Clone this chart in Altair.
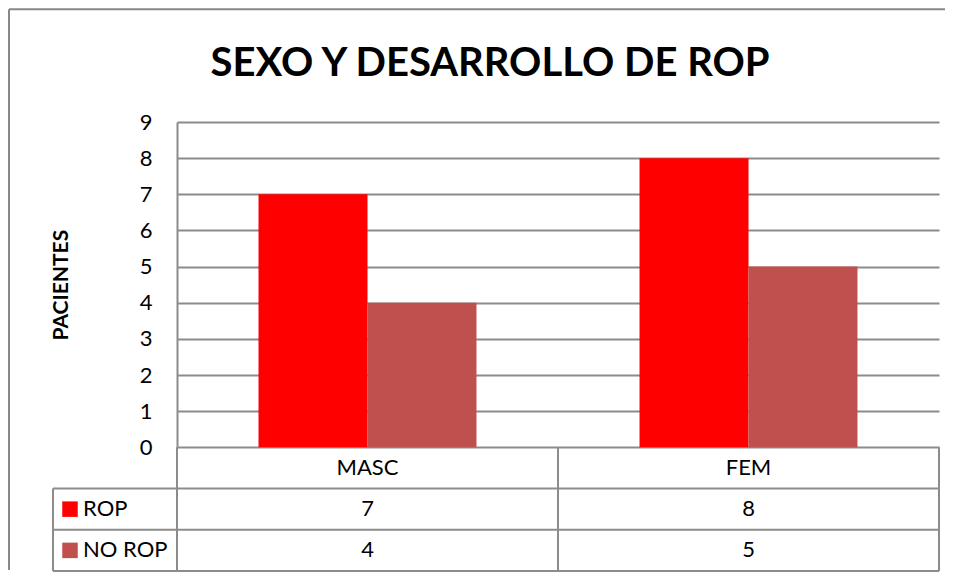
import altair as alt
import pandas as pd

# ---- data ----
categorias = ["MASC", "FEM"]
series = ["ROP", "NO ROP"]
rop = [7, 8]
no_rop = [4, 5]
colores = ["#FF0000", "#C0504D"]
y_ticks = [0, 1, 2, 3, 4, 5, 6, 7, 8, 9]
titulo = "SEXO Y DESARROLLO DE ROP"
titulo_y = "PACIENTES"
fila_cab = "cab"
filas = [fila_cab] + series

# ---- layout constants (pixels, relative to plot origin) ----
W = 762
YZ = 325.3     # y pixel of value 0 (top of table)
YB = 449       # bottom of table
LEFT_COL = -124
FONT = "Lato"
GRID = "#8c8c8c"
FS = 22

rows = []
for i, c in enumerate(categorias):
    rows.append({"sexo": c, "serie": series[0], "valor": rop[i], "fila": series[0]})
    rows.append({"sexo": c, "serie": series[1], "valor": no_rop[i], "fila": series[1]})
df = pd.DataFrame(rows)
df_cat = pd.DataFrame({"sexo": categorias, "fila": [fila_cab] * len(categorias)})
df_ser = pd.DataFrame({"serie": series, "fila": series})
df_last = pd.DataFrame({"fila": [series[-1]]})
df_catlast = pd.DataFrame({"sexo": [categorias[-1]]})

xscale = alt.Scale(domain=categorias, paddingInner=0, paddingOuter=0)
yrow = alt.Scale(domain=filas, range=[YZ, YB], paddingInner=0, paddingOuter=0)
cscale = alt.Scale(domain=series, range=colores)

bars = alt.Chart(df).mark_bar().encode(
    x=alt.X("sexo:N", sort=categorias, scale=xscale, axis=None),
    xOffset=alt.XOffset("serie:N", sort=series,
                        scale=alt.Scale(domain=series, paddingInner=0, paddingOuter=0.748)),
    y=alt.Y("valor:Q",
            scale=alt.Scale(domain=[0, 9], range=[YZ, 0], nice=False),
            axis=alt.Axis(values=y_ticks, grid=True, gridColor=GRID, gridWidth=2,
                          domain=True, domainColor=GRID, domainWidth=2, ticks=False,
                          labelFont=FONT, labelFontSize=FS, labelColor="black",
                          labelPadding=25, title=titulo_y, titleFont=FONT,
                          titleFontSize=21, titleFontWeight="bold", titleColor="black",
                          titlePadding=68)),
    color=alt.Color("serie:N", scale=cscale, legend=None),
)

# table horizontal lines (top of ROP / NO ROP rows, bottom of table)
hlines = alt.Chart(df_ser).mark_rule(color=GRID, strokeWidth=2).encode(
    y=alt.Y("fila:N", scale=yrow, axis=None, bandPosition=0),
    x=alt.value(LEFT_COL), x2=alt.value(W),
)
hbottom = alt.Chart(df_last).mark_rule(color=GRID, strokeWidth=2).encode(
    y=alt.Y("fila:N", scale=yrow, axis=None, bandPosition=1),
    x=alt.value(LEFT_COL), x2=alt.value(W),
)
# table vertical lines at category band edges
vlines = alt.Chart(df_cat).mark_rule(color=GRID, strokeWidth=2).encode(
    x=alt.X("sexo:N", scale=xscale, axis=None, bandPosition=0),
    y=alt.value(YZ), y2=alt.value(YB),
)
vright = alt.Chart(df_catlast).mark_rule(color=GRID, strokeWidth=2).encode(
    x=alt.X("sexo:N", scale=xscale, axis=None, bandPosition=1),
    y=alt.value(YZ), y2=alt.value(YB),
)
vleft = alt.Chart(df_last).mark_rule(color=GRID, strokeWidth=2).encode(
    x=alt.value(LEFT_COL), y=alt.value(YZ + (YB - YZ) / 3), y2=alt.value(YB),
)

header = alt.Chart(df_cat).mark_text(font=FONT, fontSize=FS, color="black", baseline="middle").encode(
    x=alt.X("sexo:N", scale=xscale, axis=None),
    y=alt.Y("fila:N", scale=yrow, axis=None),
    text="sexo:N",
)
values = alt.Chart(df).mark_text(font=FONT, fontSize=FS, color="black", baseline="middle").encode(
    x=alt.X("sexo:N", scale=xscale, axis=None),
    y=alt.Y("fila:N", scale=yrow, axis=None),
    text="valor:Q",
)
squares = alt.Chart(df_ser).mark_square(size=240, opacity=1, filled=True).encode(
    x=alt.value(LEFT_COL + 17),
    y=alt.Y("fila:N", scale=yrow, axis=None),
    color=alt.Color("serie:N", scale=cscale, legend=None),
)
labels = alt.Chart(df_ser).mark_text(font=FONT, fontSize=FS, color="black",
                                     align="left", baseline="middle").encode(
    x=alt.value(LEFT_COL + 30),
    y=alt.Y("fila:N", scale=yrow, axis=None),
    text="serie:N",
)

title = alt.Chart(pd.DataFrame({"t": [titulo]})).mark_text(
    font=FONT, fontSize=40, fontWeight="bold", color="black",
    align="center", baseline="alphabetic").encode(
    x=alt.value(313), y=alt.value(-46), text="t:N")

frame_top = alt.Chart(pd.DataFrame({"a": [0]})).mark_rule(color="#888888", strokeWidth=2).encode(
    x=alt.value(-168), x2=alt.value(768), y=alt.value(-112.7))
frame_left = alt.Chart(pd.DataFrame({"a": [0]})).mark_rule(color="#888888", strokeWidth=2).encode(
    x=alt.value(-168), y=alt.value(-112.7), y2=alt.value(448))

chart = alt.layer(
    bars, hlines, hbottom, vlines, vright, vleft, header, values, squares, labels,
    title, frame_top, frame_left
).resolve_scale(y="independent").properties(
    width=W, height=YB, padding=0, background="white"
).configure_view(stroke=None)

chart.save("out.html", embed_options={"renderer": "svg", "actions": False})
